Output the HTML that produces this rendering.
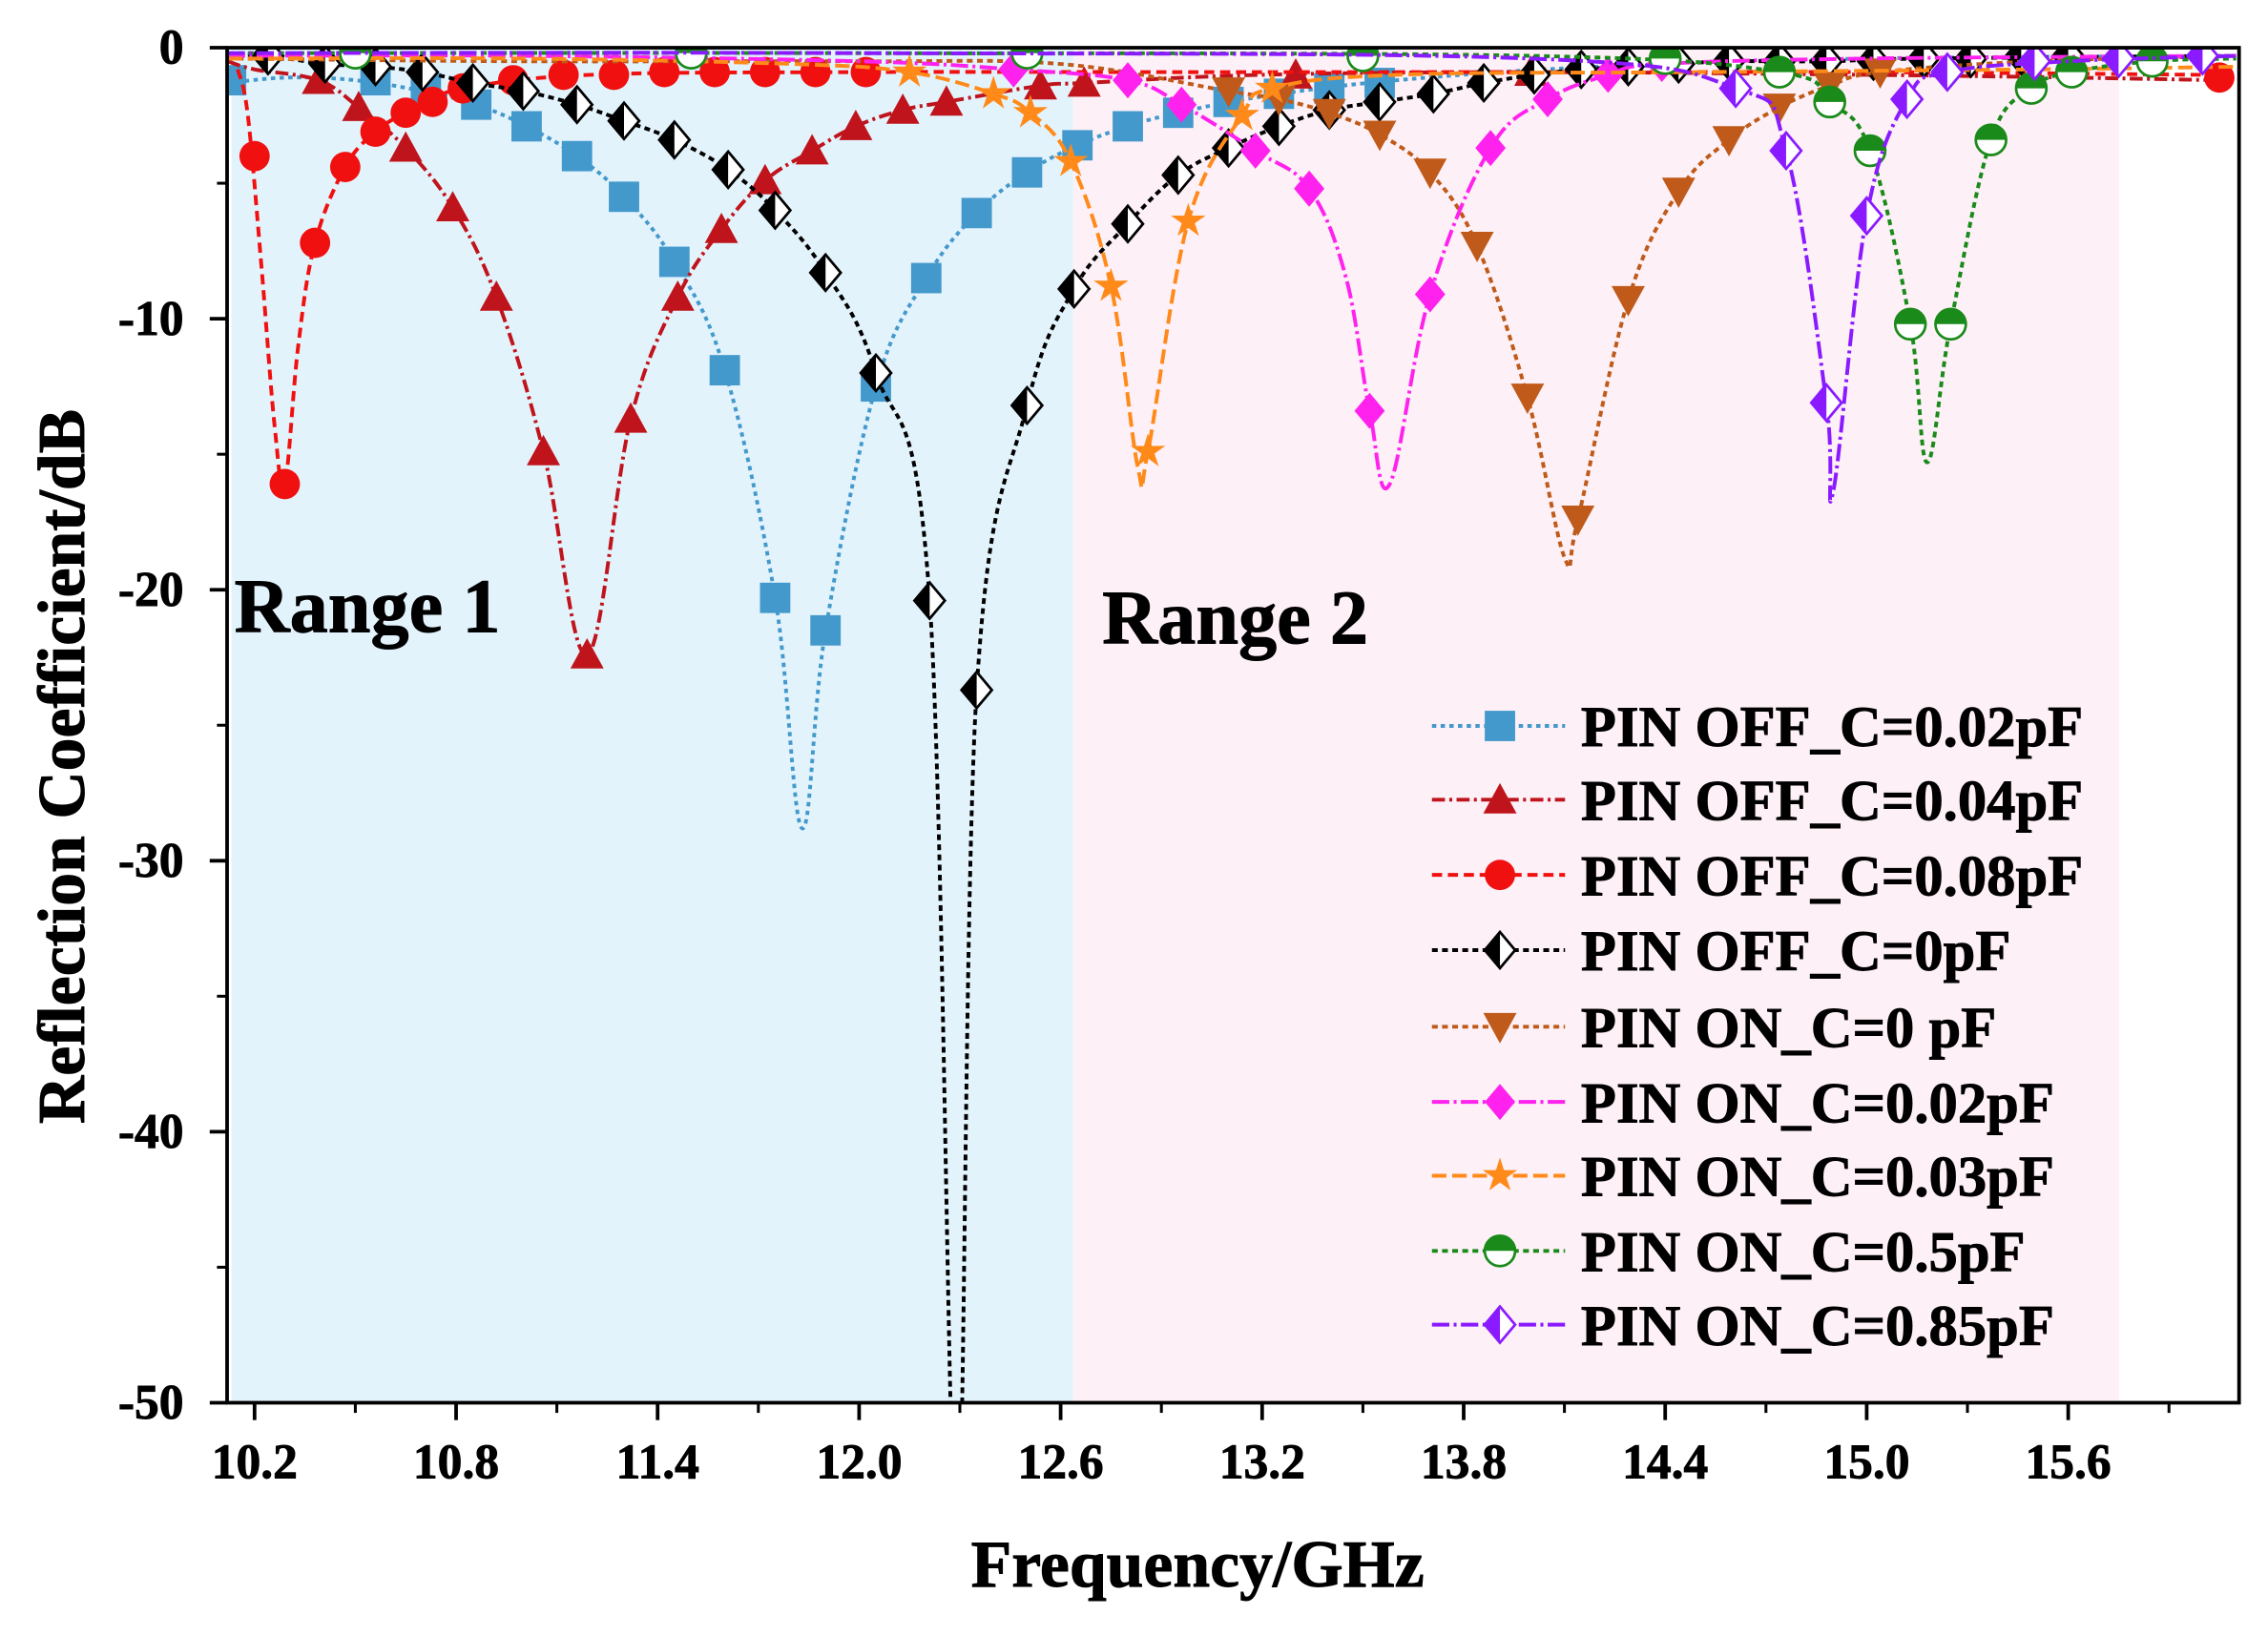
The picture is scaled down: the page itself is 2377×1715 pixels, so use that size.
<!DOCTYPE html>
<html><head><meta charset="utf-8"><style>
html,body{margin:0;padding:0;background:#fff;}
svg{display:block;}
text{font-family:"Liberation Serif",serif;font-weight:bold;stroke:#000;stroke-width:0.6px;}
</style></head><body>
<svg id="chart" width="2377" height="1715" viewBox="0 0 1568 1131.3" xmlns="http://www.w3.org/2000/svg">
<rect x="0" y="0" width="1568" height="1131.3" fill="#fff"/>
<rect x="160" y="33" width="582" height="937" fill="#e3f3fc"/>
<rect x="742" y="33" width="723" height="937" fill="#fdf0f6"/>
<g id="series"></g>
<g id="axes"></g>
<text x="162" y="437" font-size="53">Range 1</text>
<text x="762" y="445" font-size="53">Range 2</text>
<text x="828" y="1097" font-size="46" text-anchor="middle">Frequency/GHz</text>
<text transform="translate(58,530) rotate(-90)" font-size="46" text-anchor="middle">Reflection Coefficient/dB</text>
<g id="legend"></g>
</svg>
<script>
const xTicks = [10.2,10.8,11.4,12.0,12.6,13.2,13.8,14.4,15.0,15.6];
const xTickLabels = ["10.2","10.8","11.4","12.0","12.6","13.2","13.8","14.4","15.0","15.6"];
const yTicks = [0,-10,-20,-30,-40,-50];
const yTickLabels = ["0","-10","-20","-30","-40","-50"];
const seriesNames = ["PIN OFF_C=0.02pF","PIN OFF_C=0.04pF","PIN OFF_C=0.08pF","PIN OFF_C=0pF","PIN ON_C=0 pF","PIN ON_C=0.02pF","PIN ON_C=0.03pF","PIN ON_C=0.5pF","PIN ON_C=0.85pF"];

const s1LineF=[10.12,10.3,10.5,10.7,10.86,11.01,11.16,11.30,11.45,11.60,11.75,11.83,11.90,12.05,12.20,12.35,12.50,12.65,12.80,12.95,13.2,13.6,14.2,15,16.1];
const s1LineD=[-1.3,-1.1,-1.2,-1.6,-2.1,-2.9,-4.0,-5.5,-7.9,-11.9,-20.3,-28.8,-21.5,-12.5,-8.5,-6.1,-4.6,-3.6,-2.9,-2.4,-1.8,-1.2,-0.7,-0.4,-0.3];
const s1MarkF=[10.13,10.56,10.71,10.86,11.01,11.16,11.30,11.45,11.60,11.75,11.90,12.05,12.20,12.35,12.50,12.65,12.80,12.95,13.10,13.25,13.40,13.55];
const s1MarkD=[-1.2,-1.2,-1.5,-2.1,-2.9,-4.0,-5.5,-7.9,-11.9,-20.3,-21.5,-12.5,-8.5,-6.1,-4.6,-3.6,-2.9,-2.4,-2.0,-1.7,-1.5,-1.3];

const s2LineF=[10.12,10.2,10.39,10.51,10.65,10.79,10.92,11.06,11.19,11.32,11.46,11.59,11.72,11.86,11.99,12.13,12.26,12.54,12.67,13.2,14.0,15.0,15.6,16.05];
const s2LineD=[-0.5,-0.8,-1.2,-2.2,-3.7,-5.9,-9.2,-14.9,-22.4,-13.7,-9.2,-6.7,-4.9,-3.8,-2.9,-2.3,-2.0,-1.4,-1.3,-1.0,-0.9,-1.0,-1.1,-1.2];
const s2MarkF=[10.39,10.51,10.65,10.79,10.92,11.06,11.19,11.32,11.46,11.59,11.72,11.86,11.99,12.13,12.26,12.54,12.67,13.3,14.0];
const s2MarkD=[-1.2,-2.2,-3.7,-5.9,-9.2,-14.9,-22.4,-13.7,-9.2,-6.7,-4.9,-3.8,-2.9,-2.3,-2.0,-1.4,-1.3,-1.0,-0.9];

const s3LineF=[10.15,10.18,10.22,10.26,10.29,10.33,10.38,10.47,10.56,10.65,10.73,10.82,11.2,12.0,13.0,14.0,15.0,16.0];
const s3LineD=[-0.8,-2.5,-8.0,-14.0,-16.1,-11.0,-7.2,-4.4,-3.1,-2.4,-2.0,-1.5,-1.0,-0.9,-0.9,-0.9,-0.9,-1.0];
const s3MarkF=[10.2,10.29,10.38,10.47,10.56,10.65,10.73,10.82,10.97,11.12,11.27,11.42,11.57,11.72,11.87,12.02,16.05];
const s3MarkD=[-4.0,-16.1,-7.2,-4.4,-3.1,-2.4,-2.0,-1.5,-1.2,-1.0,-1.0,-0.9,-0.9,-0.9,-0.9,-0.9,-1.1];

const s4LineF=[10.12,10.24,10.41,10.56,10.70,10.85,11.0,11.16,11.30,11.45,11.61,11.75,11.90,12.05,12.21,12.29,12.35,12.50,12.64,12.80,12.95,13.10,13.25,13.40,13.55,13.71,13.86,14.01,14.15,14.29,14.44,14.59,14.88,15.17,16.1];
const s4LineD=[-0.3,-0.3,-0.6,-0.7,-0.9,-1.3,-1.6,-2.1,-2.7,-3.4,-4.5,-6.0,-8.3,-12.0,-20.4,-55,-23.7,-13.2,-8.9,-6.5,-4.7,-3.7,-2.9,-2.3,-2.0,-1.7,-1.3,-1.0,-0.8,-0.7,-0.6,-0.5,-0.5,-0.4,-0.3];
const s4MarkF=[10.24,10.41,10.56,10.70,10.85,11.0,11.16,11.30,11.45,11.61,11.75,11.90,12.05,12.21,12.35,12.50,12.64,12.80,12.95,13.10,13.25,13.40,13.55,13.71,13.86,14.01,14.15,14.29,14.44,14.59,14.74,14.88,15.02,15.17,15.31,15.46,15.60];
const s4MarkD=[-0.3,-0.6,-0.7,-0.9,-1.3,-1.6,-2.1,-2.7,-3.4,-4.5,-6.0,-8.3,-12.0,-20.4,-23.7,-13.2,-8.9,-6.5,-4.7,-3.7,-2.9,-2.3,-2.0,-1.7,-1.3,-1.0,-0.8,-0.7,-0.6,-0.5,-0.5,-0.5,-0.5,-0.4,-0.4,-0.3,-0.3];

const s5LineF=[10.12,11.0,12.0,12.6,13.10,13.25,13.40,13.55,13.70,13.84,13.99,14.10,14.14,14.29,14.44,14.59,14.74,14.89,15.04,15.5,16.1];
const s5LineD=[-0.4,-0.5,-0.5,-0.6,-1.6,-1.9,-2.4,-3.2,-4.6,-7.3,-12.9,-18.8,-17.4,-9.3,-5.3,-3.4,-2.2,-1.4,-0.9,-0.5,-0.3];
const s5MarkF=[13.10,13.25,13.40,13.55,13.70,13.84,13.99,14.14,14.29,14.44,14.59,14.74,14.89,15.04];
const s5MarkD=[-1.6,-1.9,-2.4,-3.2,-4.6,-7.3,-12.9,-17.4,-9.3,-5.3,-3.4,-2.2,-1.4,-0.9];

const s6LineF=[10.12,11.0,12.0,12.46,12.8,12.96,13.18,13.34,13.45,13.52,13.58,13.70,13.88,14.05,14.23,14.39,15.0,16.1];
const s6LineD=[-0.3,-0.3,-0.5,-0.8,-1.2,-2.1,-3.8,-5.2,-8.5,-13.4,-16.1,-9.1,-3.7,-1.9,-1.0,-0.6,-0.4,-0.3];
const s6MarkF=[12.46,12.8,12.96,13.18,13.34,13.52,13.70,13.88,14.05,14.23,14.39];
const s6MarkD=[-0.8,-1.2,-2.1,-3.8,-5.2,-13.4,-9.1,-3.7,-1.9,-1.0,-0.6];

const s7LineF=[10.12,11.0,11.8,12.15,12.40,12.51,12.63,12.75,12.83,12.86,12.98,13.14,13.23,13.6,14.5,15.5,16.1];
const s7LineD=[-0.4,-0.4,-0.6,-0.9,-1.7,-2.4,-4.2,-8.8,-15.5,-14.9,-6.4,-2.5,-1.5,-1.0,-0.9,-0.8,-0.7];
const s7MarkF=[12.15,12.40,12.51,12.63,12.75,12.86,12.98,13.14,13.23];
const s7MarkD=[-0.9,-1.7,-2.4,-4.2,-8.8,-14.9,-6.4,-2.5,-1.5];

const s8LineF=[10.12,12.0,14.0,14.74,14.89,15.01,15.13,15.18,15.25,15.37,15.49,15.61,15.85,16.1];
const s8LineD=[-0.2,-0.2,-0.3,-0.9,-2.0,-3.8,-10.2,-15.3,-10.2,-3.4,-1.5,-0.9,-0.5,-0.4];
const s8MarkF=[10.5,11.5,12.5,13.5,14.4,14.74,14.89,15.01,15.13,15.25,15.37,15.49,15.61,15.85];
const s8MarkD=[-0.2,-0.2,-0.2,-0.3,-0.4,-0.9,-2.0,-3.8,-10.2,-10.2,-3.4,-1.5,-0.9,-0.5];

const s9LineF=[10.12,12.0,14.0,14.61,14.76,14.88,14.90,15.0,15.12,15.24,15.6,16.1];
const s9LineD=[-0.2,-0.2,-0.4,-1.5,-3.8,-13.1,-16.4,-6.2,-1.9,-0.9,-0.5,-0.3];
const s9MarkF=[14.61,14.76,14.88,15.0,15.12,15.24,15.5,15.75,16.0];
const s9MarkD=[-1.5,-3.8,-13.1,-6.2,-1.9,-0.9,-0.5,-0.4,-0.3];

const X0=157,X1=1548,Y0=33,Y1=970;
function xs(f){return 176+(f-10.2)*232.2;}
function ys(d){return 33+(-d)*18.74;}
const NS="http://www.w3.org/2000/svg";
function mk(t,a,p){const e=document.createElementNS(NS,t);for(const k in a)e.setAttribute(k,a[k]);p.appendChild(e);return e;}

const series=[
 {lf:s1LineF,ld:s1LineD,mf:s1MarkF,md:s1MarkD,c:"#4499cc",dash:"3 3",m:"square"},
 {lf:s2LineF,ld:s2LineD,mf:s2MarkF,md:s2MarkD,c:"#c0141c",dash:"9 3 2 3",m:"tri"},
 {lf:s3LineF,ld:s3LineD,mf:s3MarkF,md:s3MarkD,c:"#f01010",dash:"7 4",m:"circle"},
 {lf:s4LineF,ld:s4LineD,mf:s4MarkF,md:s4MarkD,c:"#000",dash:"4 3",m:"halfdiamond"},
 {lf:s5LineF,ld:s5LineD,mf:s5MarkF,md:s5MarkD,c:"#bf5a1a",dash:"4 3",m:"dtri"},
 {lf:s6LineF,ld:s6LineD,mf:s6MarkF,md:s6MarkD,c:"#ff22ee",dash:"12 3 2 3",m:"diamond"},
 {lf:s7LineF,ld:s7LineD,mf:s7MarkF,md:s7MarkD,c:"#ff8a1a",dash:"10 4",m:"star"},
 {lf:s8LineF,ld:s8LineD,mf:s8MarkF,md:s8MarkD,c:"#1a8a1a",dash:"4 3",m:"halfcircle"},
 {lf:s9LineF,ld:s9LineD,mf:s9MarkF,md:s9MarkD,c:"#8a1aff",dash:"12 3 2 3",m:"halfdiamond"}
];

function pathFor(F,D){
 const p=F.map((f,i)=>[xs(f),ys(D[i])]);
 let d="M"+p[0][0]+","+p[0][1];
 for(let i=0;i<p.length-1;i++){
  const a=p[i-1]||p[i],b=p[i],c=p[i+1],e=p[i+2]||c;
  const t=0.18;
  d+=" C"+(b[0]+(c[0]-a[0])*t)+","+(b[1]+(c[1]-a[1])*t)+" "+(c[0]-(e[0]-b[0])*t)+","+(c[1]-(e[1]-b[1])*t)+" "+c[0]+","+c[1];
 }
 return d;
}
function marker(g,type,x,y,c){
 const r=10.5;let e;
 if(type==="square"){e=mk("rect",{x:x-r,y:y-r,width:2*r,height:2*r,fill:c},g);}
 else if(type==="circle"){e=mk("circle",{cx:x,cy:y,r:r,fill:c},g);}
 else if(type==="tri"){e=mk("polygon",{points:`${x},${y-r-1} ${x+r+1},${y+r-1} ${x-r-1},${y+r-1}`,fill:c},g);}
 else if(type==="dtri"){e=mk("polygon",{points:`${x},${y+r+1} ${x+r+1},${y-r+1} ${x-r-1},${y-r+1}`,fill:c},g);}
 else if(type==="diamond"){e=mk("polygon",{points:`${x},${y-r-2} ${x+r},${y} ${x},${y+r+2} ${x-r},${y}`,fill:c},g);}
 else if(type==="halfdiamond"){e=mk("g",{},g);
  mk("polygon",{points:`${x},${y-r-2} ${x+r},${y} ${x},${y+r+2} ${x-r},${y}`,fill:"#fff",stroke:c,"stroke-width":1.8},e);
  mk("polygon",{points:`${x},${y-r-2} ${x},${y+r+2} ${x-r},${y}`,fill:c},e);}
 else if(type==="halfcircle"){e=mk("g",{},g);
  mk("circle",{cx:x,cy:y,r:r,fill:"#fff",stroke:c,"stroke-width":1.8},e);
  mk("path",{d:`M${x-r},${y} A${r},${r} 0 0 1 ${x+r},${y} Z`,fill:c},e);}
 else if(type==="star"){let pts=[];for(let k=0;k<10;k++){const rr=k%2?r*0.45:r*1.2;const a=-Math.PI/2+k*Math.PI/5;pts.push((x+rr*Math.cos(a))+","+(y+rr*Math.sin(a)));}
  e=mk("polygon",{points:pts.join(" "),fill:c},g);}
 return e;
}
const sg=document.getElementById("series");
const defs=mk("defs",{},sg);
const cp=mk("clipPath",{id:"plotclip"},defs);
mk("rect",{x:X0,y:Y0,width:X1-X0,height:Y1-Y0},cp);
series.forEach((s,i)=>{
 const g=mk("g",{"clip-path":"url(#plotclip)"},sg);
 
 
 const l=mk("path",{d:pathFor(s.lf,s.ld),fill:"none",stroke:s.c,"stroke-width":2.6,"stroke-dasharray":s.dash},g);
 
 
 s.mf.forEach((f,j)=>{const m=marker(g,s.m,xs(f),ys(s.md[j]),s.c);
  
  });
});
const ax=document.getElementById("axes");
const frame=mk("rect",{x:X0,y:Y0,width:X1-X0,height:Y1-Y0,fill:"none",stroke:"#000","stroke-width":2.5},ax);


xTicks.forEach((t,i)=>{
 const x=xs(t);
 mk("line",{x1:x,y1:Y1,x2:x,y2:Y1+12,stroke:"#000","stroke-width":2.5},ax);
 const tx=mk("text",{x:x,y:Y1+52,"font-size":34,"text-anchor":"middle"},ax);tx.textContent=xTickLabels[i];
 
 
});
for(let f=10.2-0.3;f<16.2;f+=0.6){if(f<10.12)continue;const x=xs(f);mk("line",{x1:x,y1:Y1,x2:x,y2:Y1+7,stroke:"#000","stroke-width":2},ax);}
yTicks.forEach((t,i)=>{
 const y=ys(t);
 mk("line",{x1:X0-12,y1:y,x2:X0,y2:y,stroke:"#000","stroke-width":2.5},ax);
 const tx=mk("text",{x:X0-30,y:y+11,"font-size":34,"text-anchor":"end"},ax);tx.textContent=yTickLabels[i];
 
 
});
for(let d=-5;d>-50;d-=10){const y=ys(d);mk("line",{x1:X0-7,y1:y,x2:X0,y2:y,stroke:"#000","stroke-width":2},ax);}
const lg=document.getElementById("legend");


const legY=[502,553,605,657,710,762,813,865,916];
series.forEach((s,i)=>{
 const g=mk("g",{},lg);
 
 
 const y=legY[i];
 mk("line",{x1:990,y1:y,x2:1082,y2:y,stroke:s.c,"stroke-width":2.6,"stroke-dasharray":s.dash},g);
 marker(g,s.m,1037,y,s.c);
 const t=mk("text",{x:1093,y:y+14,"font-size":40},g);t.textContent=seriesNames[i];
});
</script>
</body></html>
